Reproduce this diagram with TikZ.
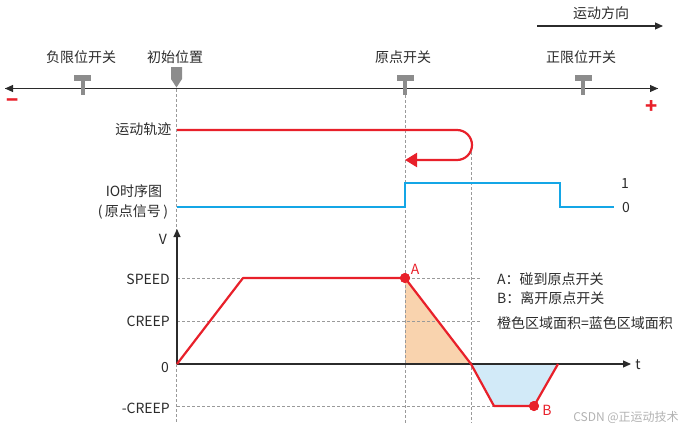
\documentclass[tikz,border=0pt]{standalone}
\usepackage{fontspec}
\setmainfont{Noto Sans CJK SC}
\usetikzlibrary{arrows.meta}
\definecolor{myred}{HTML}{E8202A}
\definecolor{myblue}{HTML}{14A6E6}
\definecolor{mkgray}{HTML}{8C8C8C}
\definecolor{txt}{HTML}{2B2B2B}
\definecolor{guidegray}{HTML}{9A9A9A}
\definecolor{orfill}{HTML}{F9D3AE}
\definecolor{blfill}{HTML}{D2EAF8}
\tikzset{
  lbl/.style={text=txt, inner sep=0pt},
  redlbl/.style={text=myred, inner sep=0pt},
  guide/.style={draw=guidegray, line width=0.8pt, dash pattern=on 3pt off 2pt},
  axisline/.style={draw=txt, line width=1.1pt},
  axtip/.style={-{Triangle[length=8pt,width=7pt]}},
  redcurve/.style={draw=myred, line width=2.2pt, line join=round},
  bluecurve/.style={draw=myblue, line width=2.2pt},
  tmark/.pic={\fill[mkgray] (-8.5,-13.5) rectangle (8.5,-7.5);
              \fill[mkgray] (-2,-7.5) rectangle (2,6);},
  dotmark/.style={circle, fill=myred, inner sep=0pt, minimum size=10pt}
}
\begin{document}
\begin{tikzpicture}[x=1pt,y=-1pt,font=\fontsize{14}{16}\selectfont]
\useasboundingbox (0,0) rectangle (687,431);

% ---- top direction arrow
\node[lbl] (dirlbl) at (601,13) {运动方向};
\coordinate (dirS) at (537,26);
\coordinate (dirE) at (663,26);
\draw[axisline, axtip] (dirS) -- (dirE);

% ---- position axis
\coordinate (axL) at (5,88.5);
\coordinate (axR) at (658,88.5);
\draw[axisline, axtip] (axR) -- (axL);
\draw[axisline, axtip] (axL) -- (axR);

\node[lbl] (neglbl) at (81,57) {负限位开关};
\node[lbl] (initlbl) at (175,57) {初始位置};
\node[lbl] (homelbl) at (403,57) {原点开关};
\node[lbl] (poslbl) at (581,57) {正限位开关};

\pic at (82.5,88.5) {tmark};
\pic at (405,88.5) {tmark};
\pic at (583,88.5) {tmark};
\fill[mkgray] (171,67) -- (182,67) -- (182,79) -- (176.5,87.5) -- (171,79) -- cycle;

\node[text=myred, inner sep=0pt, font=\fontsize{20}{20}\selectfont\bfseries] (minus) at (13,103) {−};
\node[text=myred, inner sep=0pt, font=\fontsize{20}{20}\selectfont\bfseries] (plus) at (652,107) {+};

% ---- fills
\fill[orfill] (405,278) -- (405,364) -- (471,364) -- cycle;
\fill[blfill] (471,364) -- (494,406) -- (534,406) -- (558,364) -- cycle;

% ---- guide lines
\draw[guide] (176,89) -- (176,423);
\draw[guide] (405,95) -- (405,423);
\draw[guide] (471.5,152) -- (471.5,423);
\draw[guide] (177,278) -- (480,278);
\draw[guide] (177,321) -- (480,321);
\draw[guide] (177,406) -- (494,406);

% ---- trajectory
\node[lbl, anchor=east] (trajlbl) at (171.5,129) {运动轨迹};
\coordinate (trajS) at (177,130);
\coordinate (trajE) at (405,160);
\draw[redcurve, rounded corners=15pt, -{Triangle[length=12pt,width=14pt]}]
  (trajS) -- (472,130) -- (472,160) -- (trajE);

% ---- IO timing
\node[lbl] (iolbl1) at (134,191) {IO时序图};
\node[lbl] (iolbl2) at (133,212) {(\,原点信号\,)};
\coordinate (ioS) at (177,207);
\coordinate (ioE) at (614,207);
\draw[bluecurve] (ioS) -- (405,207) -- (405,183) -- (560,183) -- (560,207) -- (ioE);
\node[lbl] (one) at (625,184) {1};
\node[lbl] (zero) at (626,208) {0};

% ---- velocity chart
\coordinate (orig) at (177,364);
\coordinate (vtop) at (177,229);
\coordinate (tend) at (631,364);
\draw[axisline, axtip] (orig) -- (vtop);
\draw[axisline, axtip] (orig) -- (tend);
\node[lbl] (vlbl) at (163,239) {V};
\node[lbl] (tlbl) at (638,365) {t};
\node[lbl, anchor=east] (speedlbl) at (170,279) {SPEED};
\node[lbl, anchor=east] (creeplbl) at (170,321) {CREEP};
\node[lbl, anchor=east] (zerolbl) at (169,368) {0};
\node[lbl, anchor=east] (ncreeplbl) at (170,408) {-CREEP};

\node[dotmark] (A) at (405,278) {};
\node[dotmark] (B) at (534,406) {};
\draw[redcurve] (orig) -- (243,278) -- (A.center) -- (471,364) -- (494,406) -- (B.center) -- (558,364);
\node[dotmark] at (A) {};
\node[dotmark] at (B) {};
\node[redlbl] (Albl) at (415,269) {A};
\node[redlbl] (Blbl) at (547,410) {B};

\node[lbl, anchor=west] (note1) at (497,279) {A：碰到原点开关};
\node[lbl, anchor=west] (note2) at (497,298) {B：离开原点开关};
\node[lbl, anchor=west] (note3) at (497,323) {橙色区域面积=蓝色区域面积};

\node[inner sep=0pt, text=black!30, font=\fontsize{12}{12}\selectfont] (wm) at (626,417) {CSDN @正运动技术};
\end{tikzpicture}
\end{document}
